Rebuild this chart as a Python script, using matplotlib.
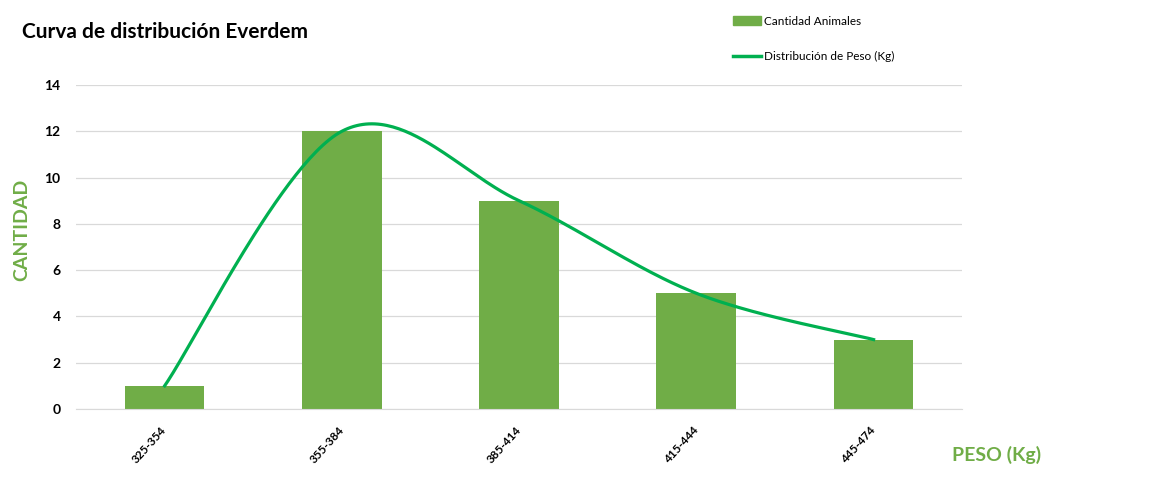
import numpy as np
import matplotlib.pyplot as plt
from matplotlib.patches import Patch
from matplotlib.lines import Line2D

plt.rcParams['font.family'] = ['Lato', 'DejaVu Sans']

rangos = ['325-354', '355-384', '385-414', '415-444', '445-474']
cantidad = [1, 12, 9, 5, 3]
distribucion = [1, 12, 9, 5, 3]

verde_barra = '#70AD47'
verde_linea = '#00B050'
gris = '#D9D9D9'


def suavizar(xs, ys, n=60):
    # curva suave tipo Excel (bezier con puntos de control a 1/6)
    xs = np.asarray(xs, float)
    ys = np.asarray(ys, float)
    px, py = [], []
    m = len(xs)
    for i in range(m - 1):
        i0 = max(i - 1, 0)
        i3 = min(i + 2, m - 1)
        c1x = xs[i] + (xs[i + 1] - xs[i0]) / 6
        c1y = ys[i] + (ys[i + 1] - ys[i0]) / 6
        c2x = xs[i + 1] - (xs[i3] - xs[i]) / 6
        c2y = ys[i + 1] - (ys[i3] - ys[i]) / 6
        t = np.linspace(0, 1, n)
        a = (1 - t) ** 3
        b = 3 * (1 - t) ** 2 * t
        c = 3 * (1 - t) * t ** 2
        d = t ** 3
        px.extend(a * xs[i] + b * c1x + c * c2x + d * xs[i + 1])
        py.extend(a * ys[i] + b * c1y + c * c2y + d * ys[i + 1])
    return np.array(px), np.array(py)


fig = plt.figure(figsize=(11.51, 4.97), dpi=100)
ax = fig.add_axes([0.066, 0.177, 0.77, 0.652])

x = np.arange(len(rangos))
ax.bar(x, cantidad, width=0.45, color=verde_barra, zorder=2)
sx, sy = suavizar(x, distribucion)
ax.plot(sx, sy, color=verde_linea, lw=2.3, zorder=3)

ax.set_xlim(-0.5, len(rangos) - 0.5)
ax.set_ylim(0, 14)
ax.set_yticks(range(0, 15, 2))
ax.grid(axis='y', color=gris, lw=0.9, zorder=0)
for s in ['top', 'right', 'left']:
    ax.spines[s].set_visible(False)
ax.spines['bottom'].set_color(gris)
ax.tick_params(length=0)
ax.tick_params(axis='y', pad=11)
for lab in ax.get_yticklabels():
    lab.set_fontweight('bold')
    lab.set_fontsize(10)

ax.set_xticks(x)
ax.set_xticklabels(rangos, rotation=48, rotation_mode='anchor', ha='right',
                   va='center', fontsize=8.5, fontweight='bold')
ax.tick_params(axis='x', pad=14)

fig.text(0.019, 0.935, 'Curva de distribución Everdem', fontsize=15,
         fontweight='bold', va='center')
fig.text(0.019, 0.537, 'CANTIDAD', rotation=90, color=verde_barra, fontsize=14,
         fontweight='bold', ha='center', va='center')
fig.text(0.866, 0.085, 'PESO (Kg)', color=verde_barra, fontsize=14,
         fontweight='bold', ha='center', va='center')

handles = [Patch(color=verde_barra), Line2D([0], [0], color=verde_linea, lw=2.5)]
fig.legend(handles, ['Cantidad Animales', 'Distribución de Peso (Kg)'],
           loc='upper left', bbox_to_anchor=(0.628, 0.99), frameon=False,
           fontsize=8.5, labelspacing=2.1, handlelength=2.3, handletextpad=0.3)

fig.savefig('out.png', dpi=100)
